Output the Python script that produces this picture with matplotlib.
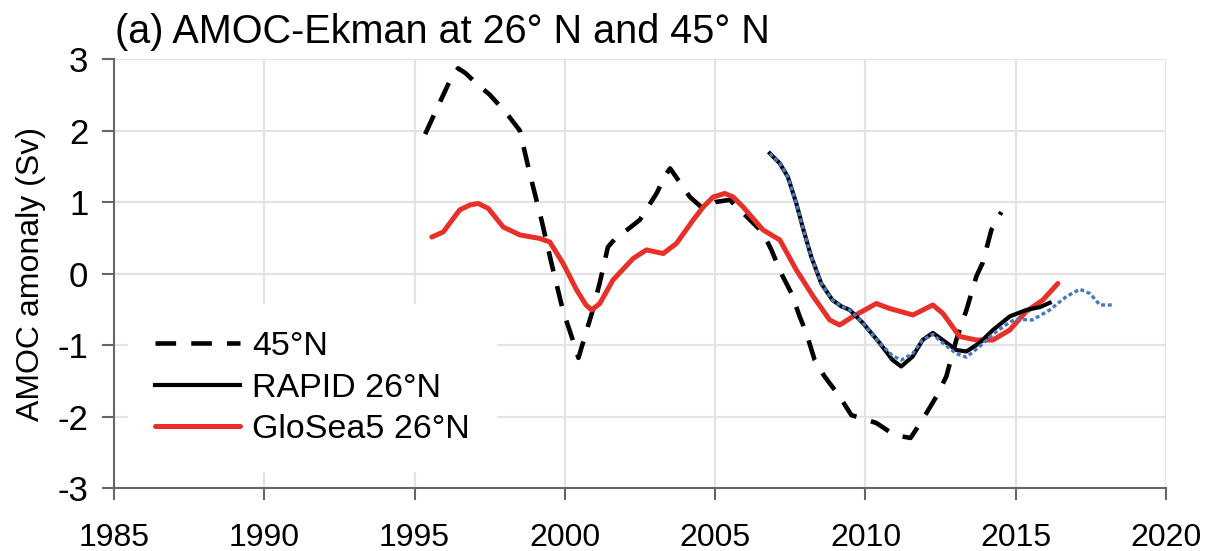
import numpy as np
import matplotlib.pyplot as plt

plt.rcParams['font.family'] = ['Liberation Sans', 'DejaVu Sans']
plt.rcParams['axes.unicode_minus'] = False

# 45N AMOC-Ekman anomaly (dashed)
yr_45 = [1995.35, 1995.9, 1996.2, 1996.45, 1996.7, 1997.0, 1997.5, 1998.06, 1998.5, 1998.83,
         1999.22, 1999.55, 1999.93, 2000.2, 2000.45, 2000.6, 2000.9, 2001.16, 2001.43,
         2001.72, 2002.1, 2002.49, 2003.05, 2003.35, 2003.5, 2003.7, 2004.16, 2004.59,
         2005.0, 2005.49, 2005.92, 2006.59, 2006.87, 2007.2, 2007.53, 2007.81, 2008.03,
         2008.31, 2008.64, 2009.14, 2009.53, 2010.36, 2010.97, 2011.5, 2011.86, 2012.36,
         2012.69, 2013.02, 2013.36, 2013.69, 2013.9, 2014.19, 2014.52]
amoc_45 = [1.95, 2.45, 2.72, 2.87, 2.80, 2.68, 2.50, 2.24, 2.0, 1.40,
           0.75, 0.15, -0.51, -0.85, -1.18, -0.97, -0.55, -0.13, 0.37,
           0.51, 0.62, 0.75, 1.12, 1.38, 1.47, 1.35, 1.07, 0.91,
           1.0, 1.03, 0.85, 0.57, 0.33, 0.0, -0.27, -0.60, -0.83,
           -1.21, -1.44, -1.72, -1.98, -2.09, -2.26, -2.30, -2.07, -1.72,
           -1.44, -0.93, -0.51, -0.04, 0.15, 0.61, 0.86]

# RAPID 26N (solid black)
yr_rapid = [2006.82, 2007.15, 2007.42, 2007.7, 2007.91, 2008.2, 2008.53, 2008.9, 2009.2,
            2009.48, 2009.91, 2010.47, 2010.9, 2011.19, 2011.57, 2011.9, 2012.24, 2012.57,
            2013.02, 2013.36, 2013.8, 2014.24, 2014.8, 2015.35, 2015.8, 2016.13]
amoc_rapid = [1.68, 1.54, 1.35, 0.98, 0.65, 0.23, -0.14, -0.37, -0.46,
              -0.51, -0.69, -0.97, -1.21, -1.30, -1.16, -0.93, -0.83, -0.93,
              -1.07, -1.09, -0.97, -0.79, -0.60, -0.51, -0.47, -0.41]

# RAPID 26N extended (blue dotted)
yr_blue = [2006.82, 2007.15, 2007.42, 2007.7, 2007.91, 2008.2, 2008.53, 2008.9, 2009.2,
           2009.48, 2009.91, 2010.47, 2010.9, 2011.19, 2011.57, 2011.9, 2012.24, 2012.57,
           2013.02, 2013.36, 2013.8, 2014.24, 2014.8, 2015.0, 2015.55, 2016.13, 2016.69,
           2017.13, 2017.47, 2017.8, 2018.24]
amoc_blue = [1.68, 1.54, 1.35, 0.98, 0.65, 0.23, -0.14, -0.37, -0.46,
             -0.51, -0.69, -0.97, -1.15, -1.21, -1.12, -0.93, -0.85, -0.97,
             -1.12, -1.17, -1.02, -0.85, -0.68, -0.64, -0.65, -0.51, -0.32,
             -0.22, -0.28, -0.44, -0.44]

# GloSea5 26N (red)
yr_glosea = [1995.57, 1995.95, 1996.5, 1996.85, 1997.12, 1997.45, 1997.95, 1998.5, 1999.17,
             1999.5, 1999.94, 2000.39, 2000.7, 2000.89, 2001.16, 2001.6, 2002.27, 2002.71,
             2003.27, 2003.71, 2004.27, 2004.6, 2004.93, 2005.32, 2005.6, 2005.93, 2006.59,
             2007.15, 2007.7, 2008.26, 2008.81, 2009.14, 2009.59, 2010.36, 2010.81, 2011.58,
             2012.24, 2012.58, 2013.13, 2013.69, 2014.24, 2014.8, 2015.35, 2015.9, 2016.4]
amoc_glosea = [0.51, 0.58, 0.89, 0.96, 0.98, 0.91, 0.65, 0.54, 0.49,
               0.44, 0.14, -0.23, -0.44, -0.51, -0.42, -0.09, 0.21, 0.33,
               0.28, 0.42, 0.75, 0.93, 1.07, 1.12, 1.07, 0.93, 0.61,
               0.47, 0.05, -0.32, -0.65, -0.72, -0.60, -0.42, -0.49, -0.58,
               -0.44, -0.56, -0.88, -0.93, -0.93, -0.79, -0.53, -0.37, -0.14]

fig = plt.figure(figsize=(12.16, 5.51), dpi=100)
ax = fig.add_axes([0.0938, 0.1143, 0.8651, 0.7786])

ax.plot(yr_45, amoc_45, color='black', lw=3.3, ls=(0, (4.5, 3.3)), label='45°N', zorder=3)
ax.plot(yr_glosea, amoc_glosea, color='#e8302a', lw=3.6, label='GloSea5 26°N',
        solid_joinstyle='round', solid_capstyle='round', zorder=4)
ax.plot(yr_rapid, amoc_rapid, color='black', lw=3.0, label='RAPID 26°N',
        solid_joinstyle='round', zorder=5)
ax.plot(yr_blue, amoc_blue, color='#4a78c0', lw=2.4, ls=(0, (1.2, 0.8)), zorder=6)

ax.set_xlim(1985, 2020)
ax.set_ylim(-3, 3)
ax.set_xticks(np.arange(1985, 2021, 5))
ax.set_yticks(np.arange(-3, 4, 1))
ax.grid(True, color='#e3e3e3', lw=1.5)
ax.set_axisbelow(True)
for s in ['top', 'right']:
    ax.spines[s].set_visible(False)
for s in ['left', 'bottom']:
    ax.spines[s].set_color('#666666')
    ax.spines[s].set_linewidth(1.5)
ax.tick_params(direction='out', length=8.5, width=1.5, color='#666666')
ax.tick_params(axis='x', labelsize=23, pad=17)
ax.tick_params(axis='y', labelsize=25, pad=10)
ax.set_ylabel('AMOC amonaly (Sv)', fontsize=23, labelpad=8)

fig.text(0.0946, 1 - 43 / 551, '(a) AMOC-Ekman at 26° N and 45° N', fontsize=28.5, va='baseline')

h, l = ax.get_legend_handles_labels()
order = [0, 2, 1]
leg = ax.legend([h[i] for i in order], [l[i] for i in order], loc='center left',
                bbox_to_anchor=(0.013, 0.233), fontsize=24.5, frameon=True,
                handlelength=2.5, handletextpad=0.35, labelspacing=0.3,
                borderaxespad=0.0, borderpad=0.8)
leg.get_frame().set_edgecolor('none')
leg.get_frame().set_facecolor('white')
leg.get_frame().set_alpha(1)

fig.savefig('out.png', dpi=100)
